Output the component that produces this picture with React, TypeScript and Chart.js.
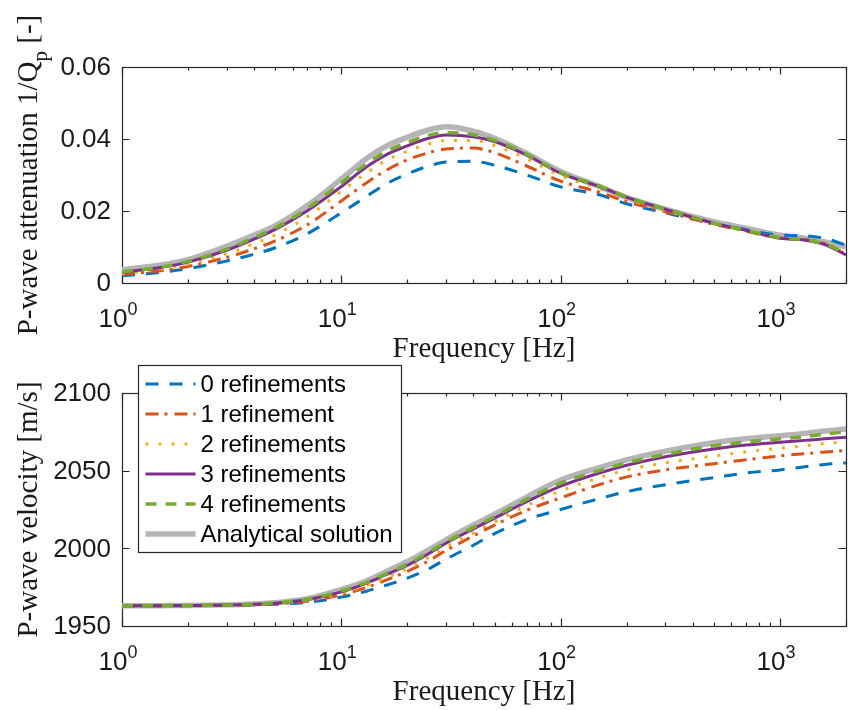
import React, { useEffect, useRef } from "react";
import { Chart, registerables } from "chart.js";
Chart.register(...registerables);

// ---------- data ----------
const frequencies = [1, 1.5, 2, 3, 4, 5, 7, 10, 13, 16, 20, 25, 30, 40, 50, 70, 100, 150, 200, 300, 500, 700, 1000, 1300, 1600, 2000];

const seriesLabels = ["0 refinements", "1 refinement", "2 refinements", "3 refinements", "4 refinements", "Analytical solution"];

const attenuation0 = [0.0020, 0.0030, 0.0040, 0.0061, 0.0080, 0.0098, 0.0137, 0.0195, 0.0240, 0.0275, 0.0303, 0.0325, 0.0336, 0.0338, 0.0327, 0.0300, 0.0267, 0.0245, 0.0220, 0.0195, 0.0165, 0.0148, 0.0133, 0.0131, 0.0124, 0.0105];
const attenuation1 = [0.0024, 0.0034, 0.0046, 0.0071, 0.0095, 0.0117, 0.0162, 0.0228, 0.0278, 0.0313, 0.0342, 0.0362, 0.0372, 0.0375, 0.0362, 0.0325, 0.0283, 0.0252, 0.0226, 0.0198, 0.0163, 0.0144, 0.0125, 0.0121, 0.0110, 0.0080];
const attenuation2 = [0.0026, 0.0038, 0.0052, 0.0081, 0.0109, 0.0134, 0.0184, 0.0255, 0.0305, 0.0340, 0.0366, 0.0386, 0.0396, 0.0396, 0.0382, 0.0345, 0.0298, 0.0263, 0.0234, 0.0201, 0.0165, 0.0145, 0.0125, 0.0120, 0.0107, 0.0080];
const attenuation3 = [0.0030, 0.0043, 0.0058, 0.0091, 0.0122, 0.0149, 0.0201, 0.0268, 0.0322, 0.0356, 0.0381, 0.0402, 0.0411, 0.0406, 0.0393, 0.0355, 0.0305, 0.0268, 0.0238, 0.0205, 0.0166, 0.0146, 0.0124, 0.0119, 0.0107, 0.0078];
const attenuation4 = [0.0031, 0.0044, 0.0060, 0.0094, 0.0126, 0.0153, 0.0207, 0.0278, 0.0330, 0.0365, 0.0390, 0.0410, 0.0418, 0.0412, 0.0396, 0.0358, 0.0306, 0.0270, 0.0240, 0.0205, 0.0166, 0.0146, 0.0126, 0.0120, 0.0108, 0.0082];
const attenuationAnalytical = [0.0037, 0.0050, 0.0065, 0.0102, 0.0133, 0.0159, 0.0215, 0.0289, 0.0345, 0.0380, 0.0405, 0.0425, 0.0434, 0.0422, 0.0402, 0.0360, 0.0310, 0.0268, 0.0237, 0.0205, 0.0170, 0.0152, 0.0133, 0.0124, 0.0114, 0.0100];

const velocity0 = [1963, 1963, 1963.1, 1963.3, 1963.6, 1964, 1965.3, 1968.6, 1972.4, 1976.2, 1980.8, 1986.8, 1993, 2002, 2009.5, 2018.5, 2025, 2032, 2036.5, 2041, 2045.5, 2048.5, 2050.5, 2052.5, 2054, 2055];
const velocity1 = [1963, 1963, 1963.1, 1963.3, 1963.7, 1964.3, 1966, 1970, 1974.8, 1979.6, 1985.2, 1991.9, 1998.6, 2008, 2015, 2024.5, 2032.5, 2041, 2046, 2050.5, 2054.5, 2057, 2059.5, 2061, 2062, 2063];
const velocity2 = [1963, 1963.1, 1963.2, 1963.4, 1963.9, 1964.5, 1966.5, 1971, 1976, 1981, 1986.8, 1994, 2000.8, 2010, 2017, 2027.5, 2037, 2045.5, 2050.5, 2055, 2059.5, 2062, 2064.5, 2066, 2067.5, 2068.6];
const velocity3 = [1963, 1963.1, 1963.2, 1963.5, 1964, 1964.7, 1967, 1972, 1977.5, 1983, 1989, 1996.5, 2003.3, 2012.5, 2019.5, 2030, 2040, 2048.5, 2053.5, 2059, 2064, 2066.5, 2068.3, 2069.5, 2070.5, 2071.5];
const velocity4 = [1963, 1963.1, 1963.2, 1963.5, 1964, 1964.8, 1967.2, 1972.5, 1978, 1983.6, 1989.8, 1997.5, 2004, 2013.5, 2020.5, 2031.5, 2042, 2050, 2055, 2060.5, 2066, 2068.5, 2070.5, 2072, 2073.5, 2075];
const velocityAnalytical = [1963, 1963.1, 1963.2, 1963.6, 1964.2, 1965, 1967.5, 1973.5, 1979, 1985, 1991.5, 1999, 2005.5, 2015, 2022, 2033, 2044, 2052, 2057, 2062.5, 2068, 2070.5, 2072.5, 2074, 2075.5, 2076.8];

const xMajorTicks = [1, 10, 100, 1000];
const xTickExponents = ["0", "1", "2", "3"];
const xMin = 1;
const xMax = 2000;

const attenuationTicks = [0, 0.02, 0.04, 0.06];
const attenuationTickLabels = ["0", "0.02", "0.04", "0.06"];
const velocityTicks = [1950, 2000, 2050, 2100];
const velocityTickLabels = ["1950", "2000", "2050", "2100"];

// ---------- styles ----------
const seriesStyles = [
  { color: "#0072BD", width: 3, dash: [13, 11], order: 5 },
  { color: "#D95319", width: 3, dash: [13, 6, 3, 7], order: 4 },
  { color: "#EDB120", width: 3, dash: [3, 10], order: 3 },
  { color: "#7E2F8E", width: 3, dash: [] as number[], order: 2 },
  { color: "#77AC30", width: 3.5, dash: [11, 9], order: 1 },
  { color: "#B5B5B5", width: 5.5, dash: [] as number[], order: 6 },
];

const AXIS_COLOR = "#262626";
const TICK_FONT = '26px "Liberation Sans", Arial, sans-serif';
const SUP_FONT = '18px "Liberation Sans", Arial, sans-serif';
const LABEL_FONT = '29px "Liberation Serif", "Times New Roman", serif';
const SUB_FONT = '21px "Liberation Serif", "Times New Roman", serif';
const LEGEND_FONT = '24px "Liberation Sans", Arial, sans-serif';

function minorTicks(): number[] {
  const out: number[] = [];
  for (let d = 1; d <= 1000; d *= 10) {
    for (let m = 2; m <= 9; m++) {
      const v = m * d;
      if (v <= xMax) out.push(v);
    }
  }
  return out;
}

type YTitle = { main: string; sub?: string; rest?: string };

function makeAxesPlugin(cfg: {
  yTicks: number[];
  yTickLabels: string[];
  yTitle: YTitle;
  xTitle: string;
  legend: boolean;
}) {
  return {
    id: "matlabAxes",
    beforeDatasetsDraw(chart: any) {
      const ctx = chart.ctx as CanvasRenderingContext2D;
      const { left, right, top, bottom } = chart.chartArea;
      const xs = chart.scales.x;
      const ys = chart.scales.y;
      ctx.save();
      ctx.strokeStyle = AXIS_COLOR;
      ctx.lineWidth = 1.2;
      ctx.strokeRect(Math.round(left) + 0.5, Math.round(top) + 0.5, Math.round(right - left), Math.round(bottom - top));
      const drawXTick = (v: number, len: number) => {
        const px = Math.round(xs.getPixelForValue(v)) + 0.5;
        ctx.beginPath();
        ctx.moveTo(px, bottom);
        ctx.lineTo(px, bottom - len);
        ctx.moveTo(px, top);
        ctx.lineTo(px, top + len);
        ctx.stroke();
      };
      xMajorTicks.forEach((v) => drawXTick(v, 7.5));
      minorTicks().forEach((v) => drawXTick(v, 3.5));
      cfg.yTicks.forEach((v) => {
        const py = Math.round(ys.getPixelForValue(v)) + 0.5;
        ctx.beginPath();
        ctx.moveTo(left, py);
        ctx.lineTo(left + 7.5, py);
        ctx.moveTo(right, py);
        ctx.lineTo(right - 7.5, py);
        ctx.stroke();
      });
      ctx.fillStyle = "#1a1a1a";
      ctx.font = TICK_FONT;
      ctx.textAlign = "right";
      ctx.textBaseline = "middle";
      cfg.yTicks.forEach((v, i) => {
        ctx.fillText(cfg.yTickLabels[i], left - 11, ys.getPixelForValue(v) + 1);
      });
      ctx.textAlign = "left";
      ctx.textBaseline = "alphabetic";
      xMajorTicks.forEach((v, i) => {
        ctx.font = TICK_FONT;
        const w1 = ctx.measureText("10").width;
        ctx.font = SUP_FONT;
        const w2 = ctx.measureText(xTickExponents[i]).width;
        const cx = xs.getPixelForValue(v) - 4;
        const x0 = cx - (w1 + w2) / 2;
        const base = bottom + 43.5;
        ctx.font = TICK_FONT;
        ctx.fillText("10", x0, base);
        ctx.font = SUP_FONT;
        ctx.fillText(xTickExponents[i], x0 + w1, base - 12);
      });
      ctx.font = LABEL_FONT;
      ctx.textAlign = "center";
      ctx.fillText(cfg.xTitle, (left + right) / 2, bottom + 74);
      ctx.save();
      ctx.translate(37, (top + bottom) / 2);
      ctx.rotate(-Math.PI / 2);
      ctx.textAlign = "left";
      ctx.font = LABEL_FONT;
      const wMain = ctx.measureText(cfg.yTitle.main).width;
      const wRest = cfg.yTitle.rest ? ctx.measureText(cfg.yTitle.rest).width : 0;
      ctx.font = SUB_FONT;
      const wSub = cfg.yTitle.sub ? ctx.measureText(cfg.yTitle.sub).width : 0;
      let x = -(wMain + wSub + wRest) / 2;
      ctx.font = LABEL_FONT;
      ctx.fillText(cfg.yTitle.main, x, 0);
      x += wMain;
      if (cfg.yTitle.sub) {
        ctx.font = SUB_FONT;
        ctx.fillText(cfg.yTitle.sub, x, 10);
        x += wSub;
      }
      if (cfg.yTitle.rest) {
        ctx.font = LABEL_FONT;
        ctx.fillText(cfg.yTitle.rest, x, 0);
      }
      ctx.restore();
      ctx.restore();
    },
    afterDatasetsDraw(chart: any) {
      if (!cfg.legend) return;
      const ctx = chart.ctx as CanvasRenderingContext2D;
      const { left, top } = chart.chartArea;
      const bx = Math.round(left + 16) + 0.5;
      const by = Math.round(top - 28) + 0.5;
      const bw = 263;
      const bh = 187;
      ctx.save();
      ctx.fillStyle = "#ffffff";
      ctx.fillRect(bx, by, bw, bh);
      ctx.strokeStyle = AXIS_COLOR;
      ctx.lineWidth = 1.2;
      ctx.strokeRect(bx, by, bw, bh);
      ctx.font = LEGEND_FONT;
      ctx.textAlign = "left";
      ctx.textBaseline = "middle";
      seriesLabels.forEach((label, i) => {
        const st = seriesStyles[i];
        const cy = by + 18.5 + i * 30;
        ctx.beginPath();
        ctx.strokeStyle = st.color;
        ctx.lineWidth = st.width;
        ctx.setLineDash(st.dash);
        ctx.moveTo(bx + 7, cy);
        ctx.lineTo(bx + 57, cy);
        ctx.stroke();
        ctx.setLineDash([]);
        ctx.fillStyle = "#000000";
        ctx.fillText(label, bx + 62, cy + 1);
      });
      ctx.restore();
    },
  };
}

function buildDatasets(series: number[][]) {
  return series.map((vals, i) => ({
    label: seriesLabels[i],
    data: frequencies.map((f, j) => ({ x: f, y: vals[j] })),
    borderColor: seriesStyles[i].color,
    borderWidth: seriesStyles[i].width,
    borderDash: seriesStyles[i].dash,
    order: seriesStyles[i].order,
    pointRadius: 0,
    fill: false,
    cubicInterpolationMode: "monotone" as const,
    borderCapStyle: "butt" as const,
  }));
}

function makeConfig(series: number[][], yMin: number, yMax: number, padding: any, plugin: any): any {
  return {
    type: "line",
    data: { datasets: buildDatasets(series) },
    options: {
      animation: false,
      responsive: false,
      devicePixelRatio: 1,
      layout: { padding },
      scales: {
        x: { type: "logarithmic", min: xMin, max: xMax, display: false },
        y: { type: "linear", min: yMin, max: yMax, display: false },
      },
      plugins: { legend: { display: false }, tooltip: { enabled: false } },
      elements: { point: { radius: 0 } },
    },
    plugins: [plugin],
  };
}

export default function App() {
  const topRef = useRef<HTMLCanvasElement>(null);
  const bottomRef = useRef<HTMLCanvasElement>(null);

  useEffect(() => {
    const topChart = new Chart(
      topRef.current!,
      makeConfig(
        [attenuation0, attenuation1, attenuation2, attenuation3, attenuation4, attenuationAnalytical],
        0,
        0.06,
        { left: 122, top: 67, right: 2, bottom: 89 },
        makeAxesPlugin({
          yTicks: attenuationTicks,
          yTickLabels: attenuationTickLabels,
          yTitle: { main: "P-wave attenuation 1/Q", sub: "p", rest: " [-]" },
          xTitle: "Frequency [Hz]",
          legend: false,
        })
      )
    );
    const bottomChart = new Chart(
      bottomRef.current!,
      makeConfig(
        [velocity0, velocity1, velocity2, velocity3, velocity4, velocityAnalytical],
        1950,
        2100,
        { left: 122, top: 35, right: 2, bottom: 84 },
        makeAxesPlugin({
          yTicks: velocityTicks,
          yTickLabels: velocityTickLabels,
          yTitle: { main: "P-wave velocity [m/s]" },
          xTitle: "Frequency [Hz]",
          legend: true,
        })
      )
    );
    return () => {
      topChart.destroy();
      bottomChart.destroy();
    };
  }, []);

  return (
    <div style={{ position: "absolute", left: 0, top: 0, width: 848, height: 710, background: "#ffffff" }}>
      <canvas ref={topRef} width={848} height={372} style={{ position: "absolute", left: 0, top: 0, width: 848, height: 372 }} />
      <canvas ref={bottomRef} width={848} height={352} style={{ position: "absolute", left: 0, top: 358, width: 848, height: 352 }} />
    </div>
  );
}
